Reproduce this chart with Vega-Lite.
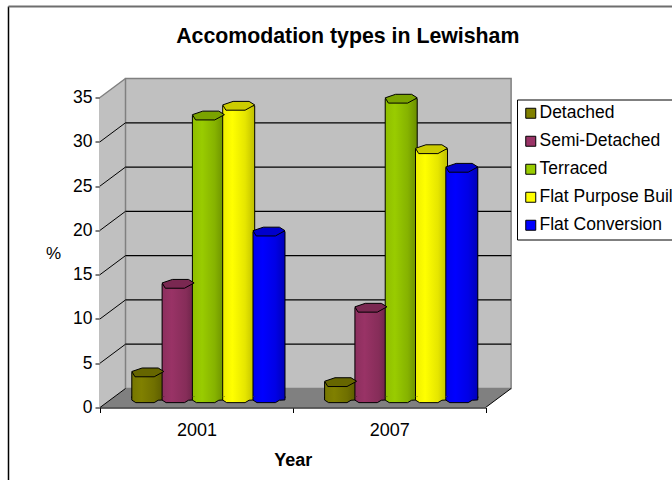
{
"$schema":"https://vega.github.io/schema/vega-lite/v6.json",
"width":385.6,"height":310,
"autosize":{"type":"none"},
"padding":{"left":100,"top":97.5,"right":186.4,"bottom":72.5},
"background":"white",
"view":{"stroke":null},
"config":{"font":"Liberation Sans"},
"title":{"text":"Accomodation types in Lewisham","font":"Liberation Sans","fontSize":21.3,"fontWeight":"bold","color":"black","anchor":"middle","dx":55,"offset":-42},
"resolve":{"scale":{"x":"independent"}},
"layer":[
{"layer":[
 {"data":{"values":[{"a":0}]},"mark":{"type":"rule","color":"black","strokeWidth":1.5},"encoding":{"x":{"datum":-0.4746,"type":"quantitative","scale":{"domain":[0,2],"nice":false,"zero":false},"axis":null},"y":{"datum":45.27,"type":"quantitative","scale":{"domain":[0,35],"nice":false},"axis":{"values":[0,5,10,15,20,25,30,35],"title":"%","titleAngle":0,"titleX":-47,"titleY":165,"titleFontSize":17,"titleFontWeight":"normal","titleFont":"Liberation Sans","titleColor":"black","labelFontSize":17.5,"labelColor":"black","labelPadding":3,"labelFont":"Liberation Sans","tickColor":"black","tickSize":5,"domainColor":"#808080","domainWidth":2,"grid":false}},"y2":{"datum":-8.2}}},
 {"data":{"values":[{"a":0}]},"mark":{"type":"rule","color":"#6e6e6e","strokeWidth":2},"encoding":{"x":{"datum":-0.4746,"type":"quantitative"},"x2":{"datum":2.97},"y":{"datum":45.27,"type":"quantitative"}}},
 {"data":{"values":[{"x":0,"lo":0,"hi":35},{"x":0.1323,"lo":2.15,"hi":37.15}]},"mark":{"type":"area","color":"#c0c0c0","opacity":1},"encoding":{"x":{"field":"x","type":"quantitative"},"y":{"field":"lo","type":"quantitative"},"y2":{"field":"hi"}}},
 {"data":{"values":[{"a":0}]},"mark":{"type":"rect","color":"#c0c0c0","stroke":"#808080","strokeWidth":1.5,"yOffset":-19,"y2Offset":-19},"encoding":{"x":{"datum":0.1323,"type":"quantitative"},"x2":{"datum":2.1323},"y":{"datum":0,"type":"quantitative"},"y2":{"datum":35}}},
 {"data":{"values":[{"v":5},{"v":10},{"v":15},{"v":20},{"v":25},{"v":30}]},"mark":{"type":"rule","color":"black","strokeWidth":1.2,"yOffset":-19,"y2Offset":-19},"encoding":{"x":{"datum":0.1323,"type":"quantitative"},"x2":{"datum":2.1323},"y":{"field":"v","type":"quantitative"}}},
 {"data":{"values":[{"x":0,"lo":0,"hi":0},{"x":0.1323,"lo":0,"hi":2.15},{"x":2,"lo":0,"hi":2.15},{"x":2.1323,"lo":2.15,"hi":2.15}]},"mark":{"type":"area","color":"#808080","opacity":1},"encoding":{"x":{"field":"x","type":"quantitative"},"y":{"field":"lo","type":"quantitative"},"y2":{"field":"hi"}}},
 {"data":{"values":[{"v":0},{"v":5},{"v":10},{"v":15},{"v":20},{"v":25},{"v":30}]},"mark":{"type":"rule","color":"black","strokeWidth":1,"y2Offset":-19},"encoding":{"x":{"datum":0,"type":"quantitative"},"x2":{"datum":0.1323},"y":{"field":"v","type":"quantitative"},"y2":{"field":"v"}}},
 {"data":{"values":[{"v":35}]},"mark":{"type":"rule","color":"#808080","strokeWidth":1.5,"y2Offset":-19},"encoding":{"x":{"datum":0,"type":"quantitative"},"x2":{"datum":0.1323},"y":{"field":"v","type":"quantitative"},"y2":{"field":"v"}}},
 {"data":{"values":[{"v":0}]},"mark":{"type":"rule","color":"black","strokeWidth":1,"y2Offset":-19},"encoding":{"x":{"datum":2,"type":"quantitative"},"x2":{"datum":2.1323},"y":{"field":"v","type":"quantitative"},"y2":{"field":"v"}}}
]},
{"data":{"values":[{"year":"2001"},{"year":"2007"}]},
 "mark":{"type":"tick","opacity":0},
 "encoding":{"x":{"field":"year","type":"nominal","scale":{"type":"band","domain":["2001","2007"],"paddingInner":0,"paddingOuter":0},"axis":{"orient":"bottom","zindex":1,"title":"Year","titleFontSize":18,"titleFont":"Liberation Sans","titleColor":"black","titleFontWeight":"bold","titlePadding":12,"labelAngle":0,"labelFontSize":18,"labelColor":"black","labelFont":"Liberation Sans","labelPadding":9,"tickBand":"extent","tickColor":"black","tickSize":5,"domainColor":"#333333","domainWidth":1.5}}}
},
{"data":{"values":[
{"year":"2001","series":"Detached","value":2.9},
{"year":"2001","series":"Semi-Detached","value":12.9},
{"year":"2001","series":"Terraced","value":31.9},
{"year":"2001","series":"Flat Purpose Built","value":33},
{"year":"2001","series":"Flat Conversion","value":18.8},
{"year":"2007","series":"Detached","value":1.8},
{"year":"2007","series":"Semi-Detached","value":10.2},
{"year":"2007","series":"Terraced","value":33.8},
{"year":"2007","series":"Flat Purpose Built","value":28.1},
{"year":"2007","series":"Flat Conversion","value":26}
]},
"encoding":{
 "x":{"field":"year","type":"nominal","scale":{"type":"band","domain":["2001","2007"],"range":[12,397.6],"paddingInner":0.2143,"paddingOuter":0.1071},"axis":null},
 "xOffset":{"field":"series","type":"nominal","scale":{"domain":["Detached","Semi-Detached","Terraced","Flat Purpose Built","Flat Conversion"],"paddingInner":0,"paddingOuter":0}}
},
"layer":[
 {"mark":{"type":"bar","width":32,"yOffset":-9.5,"y2Offset":-9.5},"encoding":{"y":{"field":"value","type":"quantitative"},"color":{"field":"series","type":"nominal","sort":null,"scale":{"domain":["Detached","Semi-Detached","Terraced","Flat Purpose Built","Flat Conversion"],"range":["#808000","#993366","#99cc00","#ffff00","#0000ff"]},"legend":{"title":null,"orient":"none","legendX":417,"legendY":2,"fillColor":"white","strokeColor":"black","padding":5,"symbolType":"square","symbolSize":100,"symbolStrokeColor":"black","symbolStrokeWidth":1,"symbolOpacity":1,"labelFontSize":17.5,"labelFont":"Liberation Sans","labelColor":"black","labelOffset":0,"labelLimit":400,"rowPadding":9}}}},
 {"mark":{"type":"bar","width":32,"stroke":"black","strokeWidth":1,"yOffset":-9.5,"y2Offset":-9.5},"encoding":{"y":{"field":"value","type":"quantitative"},"fill":{"field":"series","type":"nominal","legend":null,"scale":{"domain":["Detached","Semi-Detached","Terraced","Flat Purpose Built","Flat Conversion"],"range":[
 {"expr":"{gradient:'linear',x1:0,y1:0,x2:1,y2:0,stops:[{offset:0,color:'#767600'},{offset:0.3,color:'#808000'},{offset:0.7,color:'#707000'},{offset:1,color:'#5a5a00'}]}"},
 {"expr":"{gradient:'linear',x1:0,y1:0,x2:1,y2:0,stops:[{offset:0,color:'#8c2f5e'},{offset:0.3,color:'#993366'},{offset:0.75,color:'#862d59'},{offset:1,color:'#6b2447'}]}"},
 {"expr":"{gradient:'linear',x1:0,y1:0,x2:1,y2:0,stops:[{offset:0,color:'#8fbe00'},{offset:0.3,color:'#99cc00'},{offset:0.7,color:'#86b300'},{offset:1,color:'#6b8f00'}]}"},
 {"expr":"{gradient:'linear',x1:0,y1:0,x2:1,y2:0,stops:[{offset:0,color:'#eeee00'},{offset:0.3,color:'#ffff00'},{offset:0.7,color:'#e6e600'},{offset:1,color:'#bfbf00'}]}"},
 {"expr":"{gradient:'linear',x1:0,y1:0,x2:1,y2:0,stops:[{offset:0,color:'#0000ee'},{offset:0.3,color:'#0000ff'},{offset:0.7,color:'#0000e6'},{offset:1,color:'#0000b8'}]}"}
 ]}}}},
 {"mark":{"type":"point","filled":true,"opacity":1,"stroke":"black","strokeWidth":1,"size":1024,"yOffset":-9.5,"shape":"M-1,-0.1 L-1,0.13 L-0.75,0.29 L0.4,0.29 L0.65,0.14 L1,0.12 L1,-0.1"},"encoding":{"y":{"datum":0,"type":"quantitative"},"fill":{"field":"series","type":"nominal","legend":null}}},
 {"mark":{"type":"point","filled":true,"opacity":1,"stroke":"black","strokeWidth":1,"size":1024,"yOffset":-9.5,"shape":"M-1,-0.05 L-0.35,-0.27 L0.65,-0.27 L1,-0.05 L0.4,0.28 L-0.8,0.28 Z"},"encoding":{"y":{"field":"value","type":"quantitative"},"color":{"field":"series","type":"nominal","legend":null}}},
 {"mark":{"type":"point","filled":true,"opacity":0.2,"color":"black","size":1024,"yOffset":-9.5,"shape":"M-1,-0.05 L-0.35,-0.27 L0.65,-0.27 L1,-0.05 L0.4,0.28 L-0.8,0.28 Z"},"encoding":{"y":{"field":"value","type":"quantitative"}}}
]}
]
}
